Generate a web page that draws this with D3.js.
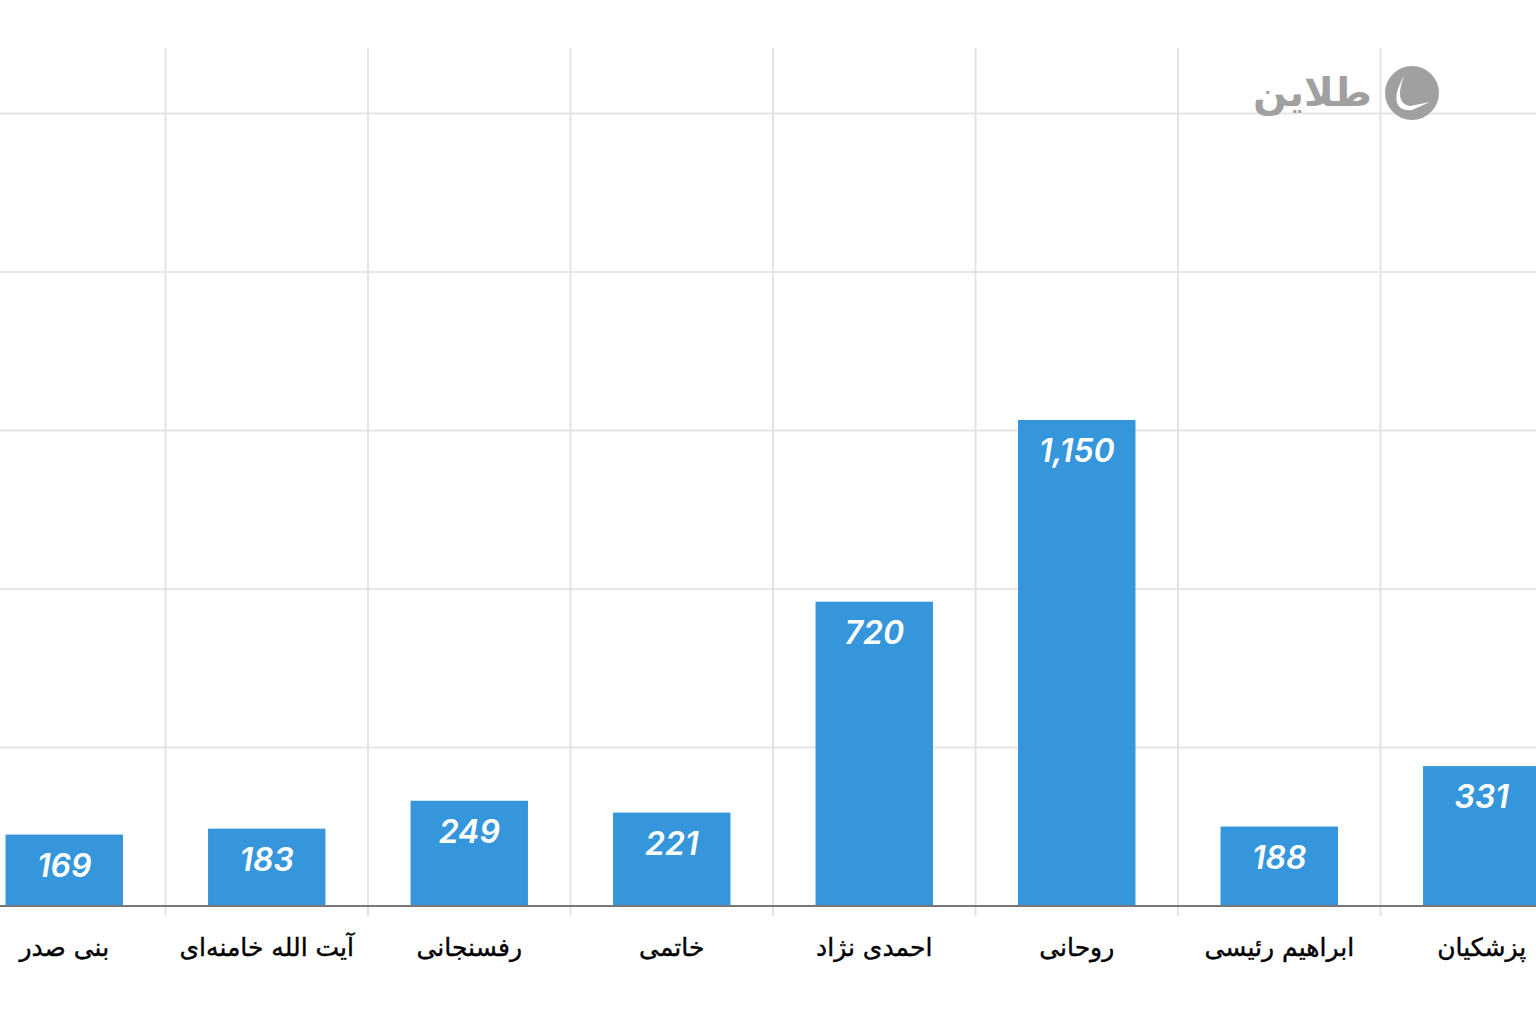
<!DOCTYPE html>
<html><head><meta charset="utf-8">
<script src="https://cdn.jsdelivr.net/npm/d3@7"></script>
<style>body{margin:0;background:#fff;overflow:hidden}</style>
</head><body>
<svg id="c" width="1536" height="1024"></svg>
<script>
const categories = ["بنی صدر","آیت الله خامنه‌ای","رفسنجانی","خاتمی","احمدی نژاد","روحانی","ابراهیم رئیسی","پزشکیان"];
const values = [169,183,249,221,720,1150,188,331];
const yTicks = [375,750,1125,1500,1875];

const svg = d3.select("#c");
const x = d3.scaleBand().domain(categories).range([-37,1583]).paddingInner(0.42).paddingOuter(0.21);
const y = d3.scaleLinear().domain([0,2030]).range([906,48]);

svg.append("g").selectAll("line").data(yTicks).join("line")
  .attr("x1",0).attr("x2",1536).attr("y1",d=>y(d)).attr("y2",d=>y(d))
  .attr("stroke","#e6e6e6").attr("stroke-width",2);
const step = x.step();
svg.append("g").selectAll("line").data(categories.slice(1)).join("line")
  .attr("x1",d=>x(d)-x.paddingInner()*step/2).attr("x2",d=>x(d)-x.paddingInner()*step/2)
  .attr("y1",48).attr("y2",916).attr("stroke","#e3e3e3").attr("stroke-width",2);

svg.append("g").selectAll("rect").data(values).join("rect")
  .attr("x",(d,i)=>x(categories[i])).attr("width",x.bandwidth())
  .attr("y",d=>y(d)).attr("height",d=>y(0)-y(d)).attr("fill","#3596db");

svg.append("line").attr("x1",0).attr("x2",1536).attr("y1",906).attr("y2",906)
  .attr("stroke","#777").attr("stroke-width",2);

svg.append("g").selectAll("text").data(values).join("text")
  .attr("x",(d,i)=>x(categories[i])+x.bandwidth()/2).attr("y",d=>y(d)+42)
  .attr("text-anchor","middle").attr("fill","#fff")
  .attr("font-family","Inter, Roboto, sans-serif").attr("font-style","italic").attr("font-weight",600)
  .attr("font-size",32).text(d3.format(","));

svg.append("g").selectAll("text").data(categories).join("text")
  .attr("x",d=>x(d)+x.bandwidth()/2).attr("y",956)
  .attr("text-anchor","middle").attr("direction","rtl").attr("fill","#000")
  .attr("font-family","'DejaVu Sans', 'Noto Sans', sans-serif").attr("font-size",25)
  .attr("stroke","#000").attr("stroke-width",0.4)
  .text(d=>d);

const lg = svg.append("g");
lg.append("circle").attr("cx",1412).attr("cy",93).attr("r",27).attr("fill","#a0a0a0");
lg.append("path").attr("d","M1404,76 C1398,92 1398,104 1410,106 L1430,102 L1412,110 C1394,112 1392,96 1404,76 Z").attr("fill","#fff");
lg.append("text").attr("x",1372).attr("y",106).attr("text-anchor","end")
  .attr("font-family","'Noto Sans', 'DejaVu Sans', sans-serif").attr("font-weight",900)
  .attr("font-size",40).attr("fill","#a0a0a0").text("طلاین");
</script>
</body></html>
